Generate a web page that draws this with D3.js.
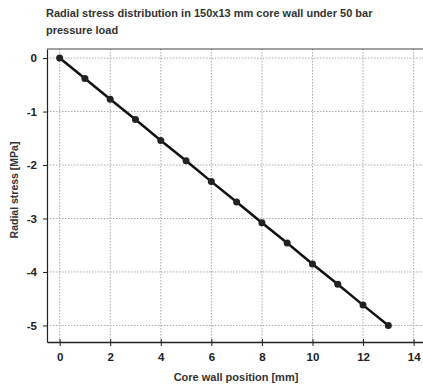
<!DOCTYPE html>
<html>
<head>
<meta charset="utf-8">
<script src="https://cdn.jsdelivr.net/npm/d3@7"></script>
<style>
  body { margin: 0; background: #fff; }
  svg { display: block; font-family: "Liberation Sans", Arial, sans-serif; }
  .tick text { font-weight: bold; font-size: 11.5px; fill: #222; }
</style>
</head>
<body>
<div id="chart"></div>
<script>
// chart data
const titleLines = ["Radial stress distribution in 150x13 mm core wall under 50 bar", "pressure load"]
const positions = [0, 1, 2, 3, 4, 5, 6, 7, 8, 9, 10, 11, 12, 13]
const stress = [0, -0.38, -0.77, -1.15, -1.54, -1.92, -2.31, -2.69, -3.08, -3.46, -3.85, -4.23, -4.62, -5.0]
const xTicks = [0, 2, 4, 6, 8, 10, 12, 14]
const yTicks = [0, -1, -2, -3, -4, -5]

const width = 423
const height = 387
const margin = { top: 49, right: -2, bottom: 45, left: 47 }

const svg = d3.select("#chart")
  .append("svg")
  .attr("width", width)
  .attr("height", height)

const x = d3.scaleLinear()
  .domain([-0.5, 14.45])
  .range([margin.left, width - margin.right])

const y = d3.scaleLinear()
  .domain([-5.31, 0.17])
  .range([height - margin.bottom, margin.top])

// title
svg.append("text")
  .attr("x", 46)
  .attr("y", 17)
  .style("font-size", "11px")
  .style("font-weight", "bold")
  .attr("fill", "#333")
  .selectAll("tspan")
  .data(titleLines)
  .enter()
  .append("tspan")
  .attr("x", 46)
  .attr("dy", (d, i) => i === 0 ? 0 : 17)
  .text(d => d)

// grid
svg.append("g")
  .selectAll("line")
  .data(xTicks)
  .enter()
  .append("line")
  .attr("x1", d => x(d)).attr("x2", d => x(d))
  .attr("y1", margin.top).attr("y2", height - margin.bottom)
  .attr("stroke", "#aaa")
  .attr("stroke-dasharray", "1.5,1.5")

svg.append("g")
  .selectAll("line")
  .data(yTicks)
  .enter()
  .append("line")
  .attr("y1", d => y(d)).attr("y2", d => y(d))
  .attr("x1", margin.left).attr("x2", width)
  .attr("stroke", "#aaa")
  .attr("stroke-dasharray", "1.5,1.5")

// axes
const xAxis = svg.append("g")
  .attr("transform", "translate(0," + (height - margin.bottom) + ")")
  .call(d3.axisBottom(x).tickValues(xTicks).tickFormat(d => String(d)).tickSize(4).tickSizeOuter(0).tickPadding(7))
xAxis.select(".domain").attr("stroke", "#222").attr("stroke-width", 1.5)
xAxis.selectAll(".tick line").attr("stroke", "#222").attr("y1", -3)

const yAxis = svg.append("g")
  .attr("transform", "translate(" + margin.left + ",0)")
  .call(d3.axisLeft(y).tickValues(yTicks).tickFormat(d => String(d)).tickSize(4).tickSizeOuter(0).tickPadding(6))
yAxis.select(".domain").attr("stroke", "#222").attr("stroke-width", 1.2)
yAxis.selectAll(".tick line").attr("stroke", "#222")

// top frame line
svg.append("line")
  .attr("x1", margin.left).attr("x2", width)
  .attr("y1", margin.top).attr("y2", margin.top)
  .attr("stroke", "#444").attr("stroke-width", 1.2)

// axis labels
svg.append("text")
  .attr("x", 236)
  .attr("y", 381)
  .attr("text-anchor", "middle")
  .style("font-size", "11px")
  .style("font-weight", "bold")
  .attr("fill", "#333")
  .text("Core wall position [mm]")

svg.append("text")
  .attr("transform", "translate(18,190) rotate(-90)")
  .attr("text-anchor", "middle")
  .style("font-size", "10.5px")
  .style("font-weight", "bold")
  .attr("fill", "#333")
  .text("Radial stress [MPa]")

// series
const line = d3.line()
  .x((d, i) => x(positions[i]))
  .y(d => y(d))

svg.append("path")
  .datum(stress)
  .attr("d", line)
  .attr("fill", "none")
  .attr("stroke", "#111")
  .attr("stroke-width", 2.5)

svg.selectAll(".pt")
  .data(stress)
  .enter()
  .append("circle")
  .attr("class", "pt")
  .attr("cx", (d, i) => x(positions[i]))
  .attr("cy", d => y(d))
  .attr("r", 3.5)
  .attr("fill", "#222")
</script>
</body>
</html>
